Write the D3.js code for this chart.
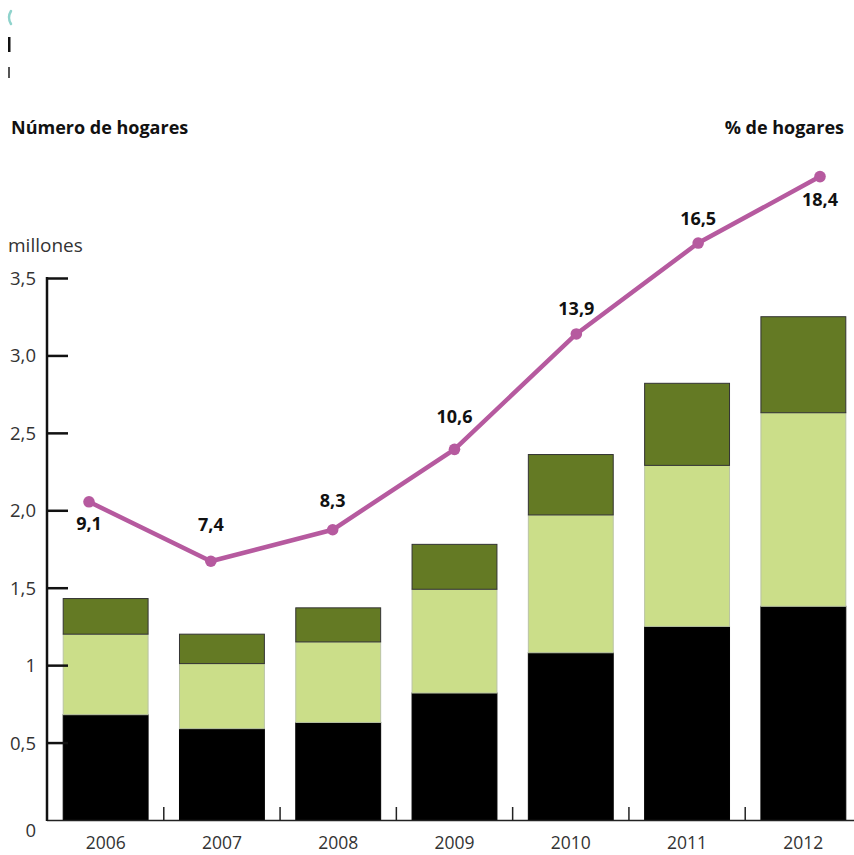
<!DOCTYPE html>
<html>
<head>
<meta charset="utf-8">
<script src="https://cdn.jsdelivr.net/npm/d3@7/dist/d3.min.js"></script>
<style>
  html, body { margin: 0; padding: 0; background: #fff; }
  svg { display: block; }
</style>
</head>
<body>
<svg id="chart" width="854" height="855"></svg>
<script>
// ---- data ----
const years = ["2006", "2007", "2008", "2009", "2010", "2011", "2012"];
const serieBase = [0.68, 0.59, 0.63, 0.82, 1.08, 1.25, 1.38];   // black
const serieMedia = [0.52, 0.42, 0.52, 0.67, 0.89, 1.04, 1.25];  // light green
const serieAlta = [0.23, 0.19, 0.22, 0.29, 0.39, 0.53, 0.62];   // dark green
const pctHogares = [9.1, 7.4, 8.3, 10.6, 13.9, 16.5, 18.4];
const pctLabels = ["9,1", "7,4", "8,3", "10,6", "13,9", "16,5", "18,4"];
const yTickValues = [0, 0.5, 1, 1.5, 2, 2.5, 3, 3.5];
const yTickLabels = ["0", "0,5", "1", "1,5", "2,0", "2,5", "3,0", "3,5"];
const labelOffsets = [28, -30, -23, -26, -19, -18, 29];

// ---- layout ----
const svg = d3.select("#chart");
const font = "'Open Sans', Roboto, 'DejaVu Sans', sans-serif";
const y = d3.scaleLinear().domain([0, 3.5]).range([820, 278]);
const yPct = d3.scaleLinear().domain([0, 15.5]).range([820, 278]);
const x = d3.scaleBand().domain(years).range([47.5, 861.5]).paddingInner(0.27).paddingOuter(0.135);
const xPct = d3.scalePoint().domain(years).range([89, 820]);

// top-left clipped fragments
svg.append("path").attr("d", "M11,11 Q7,17.5 11,24").attr("fill", "none")
  .attr("stroke", "#8fd3cc").attr("stroke-width", 2.5).attr("stroke-linecap", "round");
svg.append("rect").attr("x", 8).attr("y", 37).attr("width", 2.5).attr("height", 15).attr("fill", "#111");
svg.append("rect").attr("x", 8).attr("y", 67).attr("width", 2).attr("height", 11).attr("fill", "#555");

// headers
svg.append("text").attr("x", 11).attr("y", 134).attr("font-family", font).attr("font-weight", 700)
  .attr("font-size", 18).attr("fill", "#111").text("Número de hogares");
svg.append("text").attr("x", 844).attr("y", 134).attr("text-anchor", "end").attr("font-family", font)
  .attr("font-weight", 700).attr("font-size", 18).attr("fill", "#111").text("% de hogares");
svg.append("text").attr("x", 8).attr("y", 252).attr("font-family", font)
  .attr("font-size", 19).attr("fill", "#333").text("millones");

// stacked bars
const rows = years.map((yr, i) => ({ year: yr, base: serieBase[i], media: serieMedia[i], alta: serieAlta[i] }));
const stack = d3.stack().keys(["base", "media", "alta"])(rows);
const fills = { base: "#000000", media: "#cbde89", alta: "#647a24" };
const strokes = { base: "#000000", media: "#b9c3a4", alta: "#333333" };
svg.append("g").selectAll("g").data(stack).join("g")
  .attr("fill", d => fills[d.key]).attr("stroke", d => strokes[d.key]).attr("stroke-width", 1)
  .selectAll("rect").data(d => d).join("rect")
  .attr("x", d => x(d.data.year))
  .attr("width", x.bandwidth())
  .attr("y", d => y(d[1]))
  .attr("height", d => y(d[0]) - y(d[1]));

// x axis
const xAxisG = svg.append("g");
xAxisG.append("line").attr("x1", 47).attr("x2", 854).attr("y1", 820.5).attr("y2", 820.5)
  .attr("stroke", "#222").attr("stroke-width", 1.5);
const bounds = years.slice(1).map(yr => x(yr) - x.step() * x.paddingInner() / 2);
xAxisG.selectAll("line.sep").data(bounds).join("line").attr("class", "sep")
  .attr("x1", d => d).attr("x2", d => d).attr("y1", 807).attr("y2", 820)
  .attr("stroke", "#222").attr("stroke-width", 1.5);
xAxisG.selectAll("text").data(years).join("text")
  .attr("x", d => x(d) + x.bandwidth() / 2).attr("y", 849).attr("text-anchor", "middle")
  .attr("font-family", font).attr("font-size", 17.5).attr("fill", "#333").text(d => d);

// y axis
const yAxis = d3.axisRight(y).tickValues(yTickValues).tickSize(21).tickFormat((d, i) => yTickLabels[i]);
const yG = svg.append("g").attr("transform", "translate(47,0)").call(yAxis);
yG.select(".domain").remove();
yG.append("line").attr("x1", 0).attr("x2", 0).attr("y1", y(3.5) - 1).attr("y2", 821)
  .attr("stroke", "#111").attr("stroke-width", 2.5);
yG.selectAll(".tick line").attr("stroke", "#111").attr("stroke-width", 2.5)
  .filter(d => d === 0).remove();
yG.selectAll(".tick text").attr("x", -11).attr("text-anchor", "end")
  .attr("font-family", font).attr("font-size", 18.5).attr("fill", "#333")
  .attr("dy", d => d === 0 ? "0.9em" : "0.35em");

// line
const line = d3.line().x((d, i) => xPct(years[i])).y(d => yPct(d));
svg.append("path").datum(pctHogares).attr("d", line).attr("fill", "none")
  .attr("stroke", "#b65a9f").attr("stroke-width", 4.5).attr("stroke-linejoin", "round");
svg.append("g").selectAll("circle").data(pctHogares).join("circle")
  .attr("cx", (d, i) => xPct(years[i])).attr("cy", d => yPct(d)).attr("r", 5.8).attr("fill", "#b65a9f");
svg.append("g").selectAll("text").data(pctHogares).join("text")
  .attr("x", (d, i) => xPct(years[i]))
  .attr("y", (d, i) => yPct(d) + labelOffsets[i])
  .attr("text-anchor", "middle").attr("font-family", font).attr("font-weight", 700)
  .attr("font-size", 18).attr("fill", "#111").text((d, i) => pctLabels[i]);
</script>
</body>
</html>
